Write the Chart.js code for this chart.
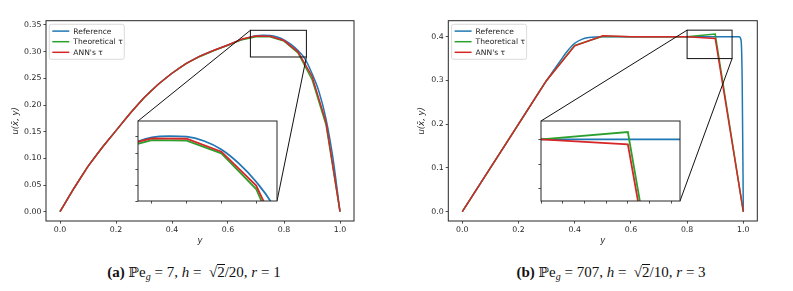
<!DOCTYPE html>
<html>
<head>
<meta charset="utf-8">
<script src="https://cdn.jsdelivr.net/npm/chart.js@4.4.1/dist/chart.umd.min.js"></script>
<style>
  body { margin: 0; background: #fff; }
  #page { position: relative; width: 793px; height: 291px; overflow: hidden; background: #fff; }
  canvas { position: absolute; }
  .caption { position: absolute; top: 262px; width: 320px; text-align: center; white-space: nowrap;
             font-family: 'Liberation Serif', 'Times New Roman', serif; font-size: 15px; color: #111; line-height: 20px; }
  .caption sub { font-size: 10px; vertical-align: -3px; line-height: 0; }
  .bb { font-family: 'DejaVu Serif', serif; font-size: 14px; }
  .rad { border-top: 1px solid #111; line-height: 14px; display: inline-block; }
</style>
</head>
<body>
<div id="page">
  <canvas id="mainA" width="400" height="250" style="left:0px;top:0px"></canvas>
  <canvas id="mainB" width="393" height="250" style="left:400px;top:0px"></canvas>
  <canvas id="insetA"></canvas>
  <canvas id="insetB"></canvas>
  <div class="caption" style="left:34px"><b>(a)</b> <span class="bb">ℙ</span>e<sub><i>g</i></sub> = 7, <i>h</i> = &nbsp;√<span class="rad">2</span>/20, <i>r</i> = 1</div>
  <div class="caption" style="left:451px"><b>(b)</b> <span class="bb">ℙ</span>e<sub><i>g</i></sub> = 707, <i>h</i> = &nbsp;√<span class="rad">2</span>/10, <i>r</i> = 3</div>
</div>
<script>
// (a) Pe_g = 7
const refXA = [0, 0.05, 0.1, 0.15, 0.2, 0.25, 0.3, 0.35, 0.4, 0.45, 0.5, 0.55, 0.6, 0.65, 0.7, 0.725, 0.75, 0.775, 0.8, 0.825, 0.85, 0.875, 0.9, 0.925, 0.95, 0.975, 1.0];
const refUA = [0, 0.044, 0.085, 0.12, 0.152, 0.184, 0.2135, 0.2385, 0.2595, 0.2775, 0.2915, 0.3025, 0.3125, 0.3225, 0.3297, 0.3306, 0.3302, 0.3275, 0.3222, 0.3135, 0.302, 0.2865, 0.259, 0.225, 0.174, 0.1, 0];
const nodeXA = [0, 0.05, 0.1, 0.15, 0.2, 0.25, 0.3, 0.35, 0.4, 0.45, 0.5, 0.55, 0.6, 0.65, 0.7, 0.75, 0.8, 0.85, 0.9, 0.95, 1.0];
const theoUA = [0, 0.044, 0.085, 0.12, 0.152, 0.184, 0.2135, 0.2385, 0.2595, 0.2775, 0.291, 0.302, 0.312, 0.3225, 0.328, 0.3277, 0.3198, 0.2975, 0.248, 0.163, 0];
const annUA  = [0, 0.044, 0.085, 0.12, 0.152, 0.184, 0.2135, 0.2385, 0.2595, 0.2775, 0.2915, 0.3025, 0.3125, 0.3238, 0.3292, 0.3289, 0.3208, 0.2996, 0.254, 0.168, 0];
const xTicksA = [0, 0.2, 0.4, 0.6, 0.8, 1.0];
const yTicksA = [0, 0.05, 0.1, 0.15, 0.2, 0.25, 0.3, 0.35];
const zoomXA = [0.68, 0.88];
const zoomYA = [0.29, 0.34];
const insetXTicksA = [0.7, 0.75, 0.8, 0.85];
const insetYTicksA = [0.29, 0.3, 0.31, 0.32, 0.33];

// (b) Pe_g = 707
const refXB = [0, 0.1, 0.2, 0.3, 0.35, 0.375, 0.4, 0.425, 0.45, 0.5, 0.6, 0.7, 0.8, 0.9, 0.985, 0.992, 0.996, 1.0];
const refUB = [0, 0.1, 0.2, 0.3, 0.346, 0.368, 0.385, 0.394, 0.398, 0.4, 0.4, 0.4, 0.4, 0.4, 0.4, 0.392, 0.3, 0];
const nodeXB = [0, 0.1, 0.2, 0.3, 0.4, 0.5, 0.6, 0.7, 0.8, 0.9, 1.0];
const theoUB = [0, 0.1, 0.2, 0.3, 0.380, 0.401, 0.4, 0.4, 0.4, 0.406, 0];
const annUB  = [0, 0.1, 0.2, 0.3, 0.379, 0.402, 0.4, 0.4, 0.4, 0.396, 0];
const xTicksB = [0, 0.2, 0.4, 0.6, 0.8, 1.0];
const yTicksB = [0, 0.1, 0.2, 0.3, 0.4];
const zoomXB = [0.8, 0.96];
const zoomYB = [0.35, 0.415];
const insetXTicksB = [0.8, 0.825, 0.85, 0.875, 0.9, 0.925, 0.95];
const insetYTicksB = [0.36, 0.38, 0.4];

const seriesLabels = ['Reference', 'Theoretical \u03c4', "ANN's \u03c4"];
const seriesColors = ['#1f77b4', '#2ca02c', '#d62728'];

const FONT = 'DejaVu Sans';
const INK = '#262626';

const panels = [
  { main: 'mainA', inset: 'insetA', offsetX: 0, width: 400,
    area: { l: 46, t: 20.7, r: 354, b: 221 }, xRange: [-0.05, 1.05], yRange: [-0.0174, 0.358],
    insetBox: { l: 138, t: 121, r: 277, b: 201 },
    refX: refXA, refU: refUA, nodeX: nodeXA, theoU: theoUA, annU: annUA,
    xTicks: xTicksA, yTicks: yTicksA, yDigits: 2, zoomX: zoomXA, zoomY: zoomYA,
    insetXTicks: insetXTicksA, insetYTicks: insetYTicksA, yTitlePad: 11 },
  { main: 'mainB', inset: 'insetB', offsetX: 400, width: 393,
    area: { l: 48.3, t: 20.7, r: 357.3, b: 221 }, xRange: [-0.0498, 1.0498], yRange: [-0.0213, 0.4366],
    insetBox: { l: 541, t: 121, r: 680, b: 201 },
    refX: refXB, refU: refUB, nodeX: nodeXB, theoU: theoUB, annU: annUB,
    xTicks: xTicksB, yTicks: yTicksB, yDigits: 1, zoomX: zoomXB, zoomY: zoomYB,
    insetXTicks: insetXTicksB, insetYTicks: insetYTicksB, yTitlePad: 17 }
];

function series(xs, ys) {
  return xs.map((x, i) => ({ x: x, y: ys[i] }));
}

function makeDatasets(p, lw) {
  const xs = [p.refX, p.nodeX, p.nodeX];
  const ys = [p.refU, p.theoU, p.annU];
  return seriesLabels.map((label, i) => ({
    label: label,
    data: series(xs[i], ys[i]),
    borderColor: seriesColors[i],
    backgroundColor: seriesColors[i],
    borderWidth: lw,
    pointRadius: 0,
    fill: false,
    tension: 0,
    cubicInterpolationMode: i === 0 ? 'monotone' : 'default',
    order: 2 - i     // reference at the bottom, ANN on top
  }));
}

function setTicks(values) {
  return scale => { scale.ticks = values.map(v => ({ value: v })); };
}

// white face + frame around the axes
const framePlugin = {
  id: 'frame',
  beforeDraw(chart) {
    const a = chart.chartArea, ctx = chart.ctx;
    ctx.save();
    ctx.fillStyle = '#fff';
    ctx.fillRect(a.left, a.top, a.right - a.left, a.bottom - a.top);
    ctx.restore();
  },
  afterDraw(chart) {
    const a = chart.chartArea, ctx = chart.ctx;
    ctx.save();
    ctx.strokeStyle = INK;
    ctx.lineWidth = 1;
    ctx.strokeRect(a.left, a.top, a.right - a.left, a.bottom - a.top);
    ctx.restore();
  }
};

// zoom rectangle, connector lines and legend on the main axes
const overlayPlugin = {
  id: 'overlay',
  afterDatasetsDraw(chart) {
    const p = chart.options.plugins.overlay;
    if (!p) return;
    const ctx = chart.ctx, xs = chart.scales.x, ys = chart.scales.y;
    const x0 = xs.getPixelForValue(p.zoomX[0]), x1 = xs.getPixelForValue(p.zoomX[1]);
    const y0 = ys.getPixelForValue(p.zoomY[0]), y1 = ys.getPixelForValue(p.zoomY[1]);
    const b = p.insetBox;
    ctx.save();
    ctx.strokeStyle = '#111';
    ctx.lineWidth = 1;
    ctx.strokeRect(x0, y1, x1 - x0, y0 - y1);
    ctx.beginPath();
    ctx.moveTo(x0, y1); ctx.lineTo(b.l - p.offsetX, b.t);
    ctx.moveTo(x1, y0); ctx.lineTo(b.r - p.offsetX, b.b);
    ctx.stroke();

    // legend
    const a = chart.chartArea;
    const lx = a.left + 3.3, ly = a.top + 3.6, lw = 75, lh = 35;
    ctx.beginPath();
    ctx.roundRect(lx, ly, lw, lh, 2);
    ctx.fillStyle = 'rgba(255,255,255,0.85)';
    ctx.fill();
    ctx.strokeStyle = '#d2d2d2';
    ctx.lineWidth = 0.8;
    ctx.stroke();
    ctx.font = '7.6px "' + FONT + '"';
    ctx.textBaseline = 'middle';
    chart.data.datasets.forEach((ds, i) => {
      const ry = ly + 6.8 + i * 10.6;
      ctx.strokeStyle = ds.borderColor;
      ctx.lineWidth = 1.5;
      ctx.beginPath();
      ctx.moveTo(lx + 3, ry); ctx.lineTo(lx + 20, ry);
      ctx.stroke();
      ctx.fillStyle = INK;
      ctx.fillText(ds.label, lx + 24, ry + 0.5);
    });
    ctx.restore();
  }
};

panels.forEach(p => {
  const tickFont = { family: FONT, size: 7.8 };
  new Chart(document.getElementById(p.main), {
    type: 'line',
    data: { datasets: makeDatasets(p, 1.5) },
    options: {
      responsive: false,
      animation: false,
      devicePixelRatio: 1,
      layout: { padding: { left: 0, top: p.area.t, right: p.width - p.area.r, bottom: 0 } },
      plugins: {
        legend: { display: false },
        tooltip: { enabled: false },
        overlay: { zoomX: p.zoomX, zoomY: p.zoomY, insetBox: p.insetBox, offsetX: p.offsetX }
      },
      scales: {
        x: {
          type: 'linear', min: p.xRange[0], max: p.xRange[1],
          afterBuildTicks: setTicks(p.xTicks),
          afterFit: s => { s.height = 250 - p.area.b; s.paddingLeft = 0; s.paddingRight = 0; },
          ticks: { callback: v => v.toFixed(1), font: tickFont, color: INK, padding: 2, maxRotation: 0, autoSkip: false },
          grid: { drawOnChartArea: false, drawTicks: true, tickLength: 2.6, color: INK, lineWidth: 0.8 },
          border: { display: false },
          title: { display: true, text: 'y', color: INK, font: { family: FONT, size: 8.5, style: 'italic' }, padding: { top: 0, bottom: 4.5 } }
        },
        y: {
          type: 'linear', min: p.yRange[0], max: p.yRange[1],
          afterBuildTicks: setTicks(p.yTicks),
          afterFit: s => { s.width = p.area.l; s.paddingTop = 0; s.paddingBottom = 0; },
          ticks: { callback: v => v.toFixed(p.yDigits), font: tickFont, color: INK, padding: 2, autoSkip: false },
          grid: { drawOnChartArea: false, drawTicks: true, tickLength: 2.6, color: INK, lineWidth: 0.8 },
          border: { display: false },
          title: { display: true, text: 'u(x\u0304, y)', color: INK, font: { family: FONT, size: 8.5, style: 'italic' }, padding: { top: p.yTitlePad, bottom: 0 } }
        }
      }
    },
    plugins: [framePlugin, overlayPlugin]
  });

  // zoomed inset
  const m = 5, b = p.insetBox;
  const cv = document.getElementById(p.inset);
  cv.width = b.r - b.l + 2 * m;
  cv.height = b.b - b.t + 2 * m;
  cv.style.left = (b.l - m) + 'px';
  cv.style.top = (b.t - m) + 'px';
  new Chart(cv, {
    type: 'line',
    data: { datasets: makeDatasets(p, 1.8) },
    options: {
      responsive: false,
      animation: false,
      devicePixelRatio: 1,
      layout: { padding: { left: 0, top: m, right: m, bottom: 0 } },
      plugins: { legend: { display: false }, tooltip: { enabled: false } },
      scales: {
        x: {
          type: 'linear', min: p.zoomX[0], max: p.zoomX[1],
          afterBuildTicks: setTicks(p.insetXTicks),
          afterFit: s => { s.height = m; s.paddingLeft = 0; s.paddingRight = 0; },
          ticks: { display: false },
          grid: { drawOnChartArea: false, drawTicks: true, tickLength: 2.6, color: INK, lineWidth: 0.8 },
          border: { display: false }
        },
        y: {
          type: 'linear', min: p.zoomY[0], max: p.zoomY[1],
          afterBuildTicks: setTicks(p.insetYTicks),
          afterFit: s => { s.width = m; s.paddingTop = 0; s.paddingBottom = 0; },
          ticks: { display: false },
          grid: { drawOnChartArea: false, drawTicks: true, tickLength: 2.6, color: INK, lineWidth: 0.8 },
          border: { display: false }
        }
      }
    },
    plugins: [framePlugin]
  });
});
</script>
</body>
</html>
